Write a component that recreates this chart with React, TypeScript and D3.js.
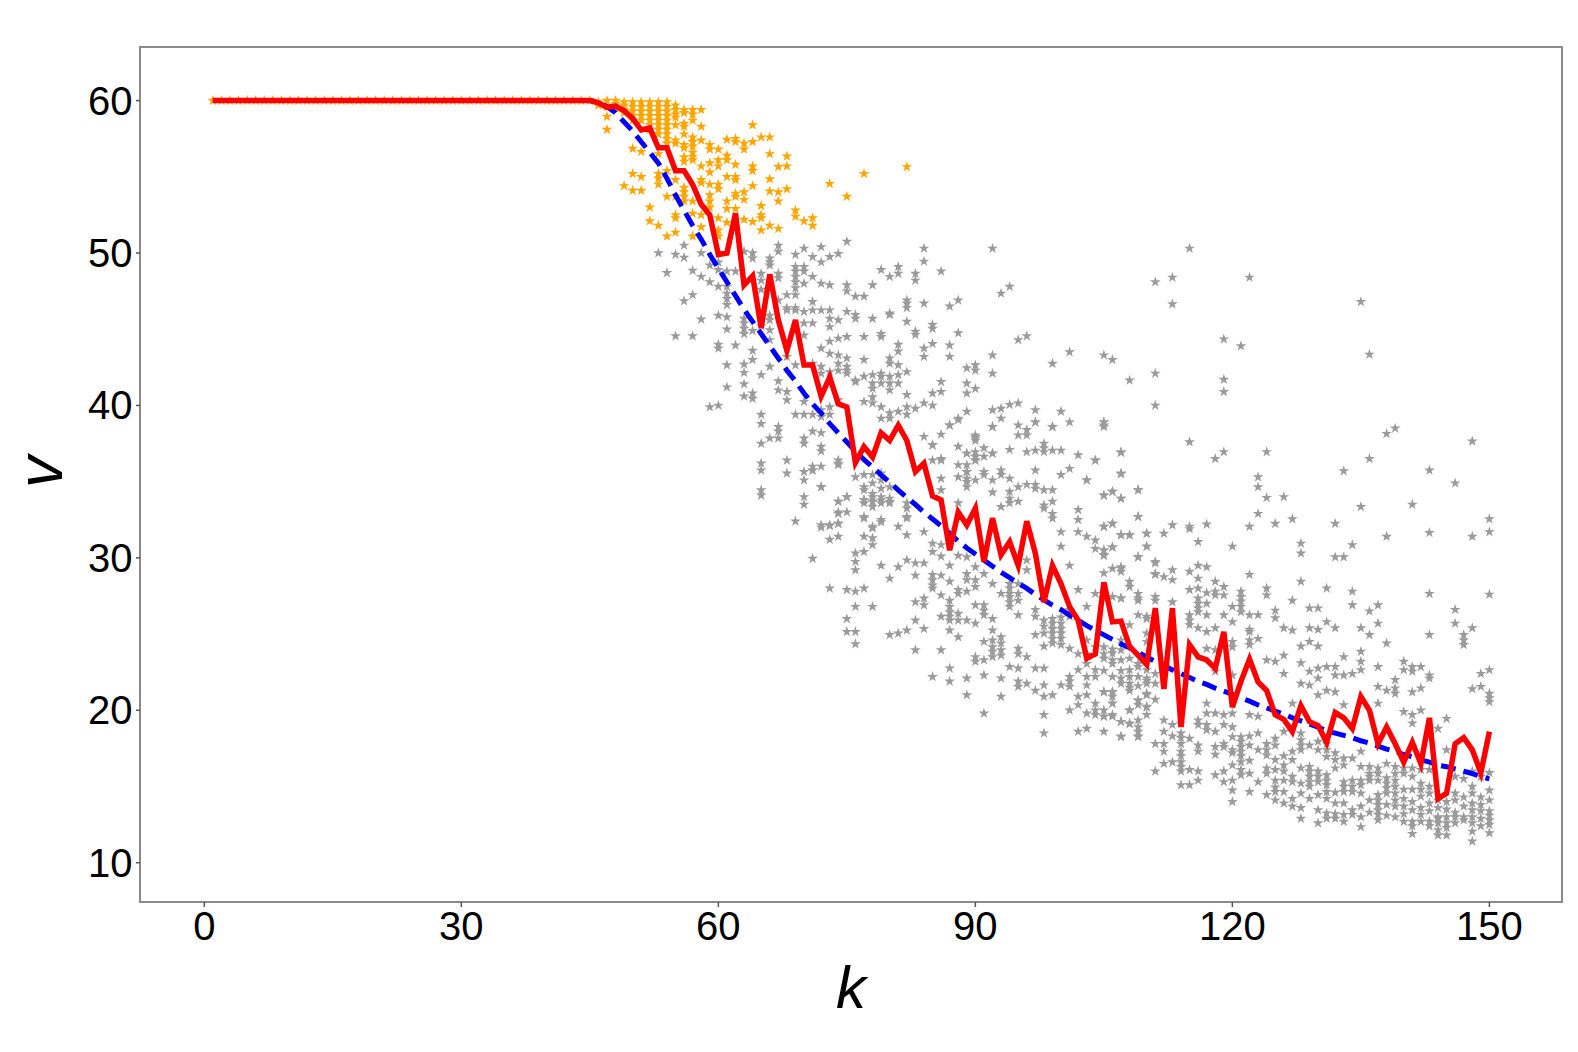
import React from "react";
import * as d3 from "d3";

const W = 1578, H = 1052;
const xTicks = [0, 30, 60, 90, 120, 150];
const yTicks = [10, 20, 30, 40, 50, 60];

const redTail = [59.86,59.56,59.64,59.34,58.83,58.07,58.2,56.9,56.9,55.4,55.4,54.5,53.2,52.5,49.9,50,52.6,47.9,48.5,45.1,48.6,45.6,43.6,45.6,42.65,42.65,40.6,41.85,40.1,39.9,36.25,37.3,36.6,38.2,37.7,38.7,37.7,35.65,36.2,34.05,33.8,30.5,33,32.15,33.25,29.75,32.6,30.2,31.05,29.5,32.4,30.3,27.1,29.5,28.3,26.8,25.9,23.4,23.7,28.4,25.8,25.85,24.2,23.6,23,26.7,21.4,26.7,18.9,24.3,23.5,23.3,22.75,25.15,20.2,21.9,23.35,21.85,21.3,19.7,19.4,18.6,20.3,19.25,19,17.9,19.85,19.5,18.8,20.9,20,17.8,18.9,17.8,16.6,17.9,16.5,19.5,14.2,14.55,17.8,18.2,17.4,15.9,18.6];
const blueTail = [59.9,59.6,59.2,58.6,58,57.3,56.6,55.9,54.9,53.8,52.8,51.8,50.9,49.9,49,48.1,47.2,46.3,45.5,44.7,43.9,43.1,42.3,41.6,40.8,40.1,39.5,38.8,38.2,37.6,37,36.45,35.95,35.45,34.95,34.45,33.95,33.5,33,32.55,32.1,31.6,31.1,30.65,30.25,29.85,29.45,29.05,28.7,28.35,28,27.6,27.25,26.9,26.6,26.25,25.9,25.55,25.25,24.95,24.65,24.35,24.1,23.8,23.5,23.2,22.95,22.65,22.4,22.15,21.9,21.7,21.45,21.25,21.05,20.8,20.6,20.35,20.15,19.95,19.75,19.5,19.3,19.1,18.9,18.65,18.5,18.35,18.2,18,17.85,17.65,17.45,17.3,17.1,16.95,16.75,16.6,16.4,16.3,16.15,16,15.85,15.65,15.5];
const flatK = Array.from({ length: 45 }, (_, i) => i + 1);
const flatV = flatK.map(() => 60);

type Row = [number, number[]];
const orangeRows: Row[] = [
[46,[59.9,59.7]],[47,[60,59.6,58.95,58.1]],[48,[60,59.8,59.5]],[49,[59.9,59.7,59.4,59.2,54.4]],
[50,[59.9,59.6,59.3,59,58.7,56.85,55.2,54.1]],[51,[59.9,59.6,59.3,59,58.7,56.65,55,54.1]],
[52,[59.9,59.6,59.3,59,58.7,58.4,58.1,53,52.1]],[53,[59.9,59.6,59.3,59,58.7,58.4,58.1,57.8,56.5,55.2,54.9,54.5,51.8]],
[54,[59.9,59.6,59.3,59,58.7,58.4,58.1,57.8,57.5,57.2,55.4,53.7,51.1]],[55,[59.7,59.4,59.1,58.9,58.4,57.4,57.2,54.8,53.7,52.5,52.3,51.35]],
[56,[59.4,59.2,58.5,58.3,57.8,57.1,56.9,56.3,56,54.3,54,53.7,53.4]],[57,[59.4,59.1,58.7,57.6,57.3,57,56.6,56.3,56.1,53.4,52.6,51.1]],
[58,[59.4,58.3,57.4,55.7,54.8,54.6,52.5,51.7]],[59,[57.1,56.8,55.9,55.3,54.5,53.8,53.4,53]],
[60,[56.8,56.1,55.7,54.5,54.2,52.3,51.5,51.1]],[61,[57.45,56.4,56.1,55,53.4,52.9,52]],
[62,[57.5,57.3,55.8,55,54.8,53.9,53.7,52.9]],[63,[57.2,56.8,54,53.5,52.2]],[64,[58.4,57.3,55.7,55.4,54.4,52.05]],
[65,[57.6,53.1,52.5,52.3,51.5]],[66,[57.6,56.5,54.85,54.05,51.8]],[67,[55.66,54,53.4,51.6]],[68,[56.35,55.7,54.2]],
[69,[52.8,52.4]],[70,[52.1]],[71,[52.3,51.8]],[73,[54.55]],[75,[53.7]],[77,[55.2]],[82,[55.65]],
];
const grayUpperLeft: Row[] = [
[53,[50]],[54,[48.7]],[55,[49.9,44.55]],[56,[50.5,49.7,46.85]],[57,[48.85,47.25,44.55]],[58,[50,48.45,45.65]],[59,[49.2,48.1,39.9]],
[60,[49.4,48.9,47.8,45.9,44,43.75,40]],[61,[48.8,47.8,47.35,47,46.6,45.8,45,42.65,41.2]],[62,[48.8,43.95]],
[63,[50.1,45.7,45.4,45.05,44.7,42.7,42.15,41.4,40.6]],[64,[50,49.65,44.9,43.6,43,40.8,40.45]],
[65,[48.65,48.2,47.6,45.7,45.2,42,39.4,38.8,37.5,36.2,35.75,34.45,34.1]],[66,[49.65,49.4,49.2,45.9,45.6,44.95,44.3,42.55,37.85]],
[67,[50.5,50.1,48.65,48.35,46.9,41.6,41,38.6,38.3,37.85]],[68,[47.25,46.4,46.25,43.2,40.9,40.35,36.4,35.55]],
[69,[49.9,49.1,48.8,48.45,48.1,47.7,47.25,46.4,46.25,42.65,39.4,32.4]],
[70,[50.3,49.1,48.8,48,46.15,45.4,44.6,40.25,39.4,37.85,37.5,35.65,35.1,34,33.5]],
[71,[49.75,48.45,46.8,46.25,45.4,42.75,39.4,38.3,36,35.75]],[72,[50.4,49.4,48,46.25,43.75,42.55,42.1,39.7,39.25,38.2,37.3,37,36,34.65,32.15]],
[73,[49.75,47.9,46.25,45.7,45.15,44.2,43.4,42.2,39.9,39.4,32.15]],[74,[49.95,45.6,44.4,43.3,42.75,42.3,40.35,36.4,36.1,33.7,32.9,32.25]],
[75,[50.75,47.9,47.5,46.15,44.5,43.1,42.55,42.3,42.1,34,33]],[76,[47.15,45.95,45.7,41.65,41.55,35.3]],
[77,[47.15,44.5,43,41.9,40.25,35.45,34.65,33.8,33.6,32.7]],[78,[47.9,45.7,42,41.45,41.1,40.55,40.15,35.45,34.9,34,33.7,33.35,32.05]],
[79,[48.9,44.7,44.5,42.1,41.9,41.45,39.9,39.15,35.55,35.1,34.55,33.8,33.6,32.35]],[80,[48.45,46.05,45.95,43.1,42.75,41.9,41.45,41,39.5,39.15,34.65,33.7]],
[81,[49.1,48.65,44,43.55,42.65,42,41.45,39.6,38.5]],[82,[46.9,46.7,46.4,45.5,42.2,40.7,39.9,39.4,33.6,32.7]],
[83,[48.65,48.2,44.85,44.65,39.8]],[84,[50.3,49.45,46.7,43.75,43.2,40.15,37.95]],[85,[45.3,45.05,44.05,40.8,40,37.4,36.4]],
[86,[48.8,41.55,40.9,36.4,35.2,34.45]],[87,[46.5,43.95,43.2,38.7]],[88,[46.9,44.75,39.15,39.05]],
[89,[42.45,41.45,40.8,39.6,36.85,36.1,35.65,35.2,34.65]],[90,[42.65,42.3,41.1,38.05,37.85,36.65,36.4]],
[92,[50.3,43.3,42.1,39.7,38.6,36.85]],[93,[47.35,39.15,39.8]],[94,[47.8,40.05]],[95,[44.3,40.15]],[96,[44.55]],
[97,[39.7,38.9]],[99,[42.75,38.6]],[100,[39.6]],[101,[43.5,38.9]],[103,[35.1]],[104,[36.4]],
];
const grayOutliers: Row[] = [
[105,[43.3,38.9,38.6,34.1,32.05,30.5,30.2]],[106,[43,34.35,32.25,30.7]],[107,[36.9,35.5,33.9,31.5]],[108,[41.65,31.5]],
[109,[34.45,32.7,30.05]],[110,[31.6,30.75]],[111,[48.1,42.1,40]],[112,[31.6]],[113,[48.4,46.65,32.15]],[115,[50.3,37.6,32.05,31.9]],
[116,[31.05]],[117,[32.2]],[118,[36.5]],[119,[44.35,41.7,40.9,36.95]],[120,[30.75]],[121,[43.9]],[122,[48.4,32.05]],
[123,[35.3,34.65,32.9]],[124,[36.95,33.95]],[125,[32.25]],[126,[34]],[127,[32.55]],[128,[30.95,30.3]],[132,[32.25,30.05]],
[133,[35.7,30.05]],[134,[30.85]],[135,[46.8,33.35]],[136,[43.35,36.5]],[138,[38.15,31.4]],[139,[38.5]],[141,[33.5]],
[143,[35.75,31.65]],[146,[34.9]],[148,[37.65,31.4]],[150,[32.55,31.7]],
];
const grayMiddle: Row[] = [
[71,[29.95,35.75]],[72,[32,34.65]],[73,[32.1,31.2,28]],[74,[36.2,33.7,33,32.25,31.4]],[75,[34,27.9,26,25.15]],
[76,[30.3,29.75,29.2,27.8,26.8,25.15,24.35]],[77,[34.45,33.8,32.6,31.4,30.4,28]],[78,[34.2,33.7,31.95,31.3,30.85,26.8]],
[79,[34,32.5,29.5]],[80,[33.9,33.6,28.65,24.95]],[81,[32.05,29.4,25.05]],[82,[33.25,32.6,31.5,29.85,25.25]],
[83,[29.65,28.85,27.1,25.9,23.95]],[84,[31.7,29.65,27.35,26.9,25.35]],[85,[37.4,30.95,30.4,28.9,28.55,28.2,28,22.2]],
[86,[38.1,36.5,30.85,30.1,28.85,27.55,26.15,23.95]],[87,[38.7,29.5,28.45,27.2,26.8,26.45,26.15,25.9,25.25,22.75,21.9]],
[88,[37.3,36.1,35.3,33.6,30.15,27.9,27.65,26.35,25.9,24.8]],[89,[36.85,35.65,35,30.05,28.95,28.55,27.8,25.9,22.1,21]],
[90,[37.95,37.7,36.95,36.65,36.4,35.1,29.4,28.55,28.1,26.9,25.7,23.5,23.2]],[91,[37.2,36.65,35.65,35.45,28.95,26.9,26.55,26.25,24.5,23.3,22.3,19.8]],
[92,[38.6,36.85,35.1,34.3,28.3,26,25.25,24.6,24.15,23.85,23.5]],[93,[35.75,35.45,33.35,27.65,24.8,24.4,23.95,23.6,22.1,20.9]],
[94,[37.1,35.2,34.35,33.9,33.6,28.3,28,27.65,27.45,27.1,26.8,22.85]],[95,[38.7,38.05,34.65,33.7,28.3,27.65,27.2,26.25,24.05,23.7,22.75,21.9,21.55]],
[96,[38.4,38.05,36.95,34.8,29.85,29.2,23.5,21.75]],[97,[38.9,37.05,35.75,34.8,34.55,26.6,26.15,24.95,22.75,21.3]],
[98,[37.5,37.2,36.95,34.45,33.45,33.25,25.9,25.5,25.05,22.75,21.65,20.9,19.7,18.5]],[99,[38.6,37.05,34.45,33.7,32.9,32.6,26,25.7,25.35,25.05,24.7,24.4,21]],
[100,[37.05,35.45,31.7,30.75,26.1,25.7,25.35,25.05,24.7,24.3,21.65]],[101,[35.85,29.5,26.6,26.15,24.05,22.2,21.9,21.55,20]],
[102,[36.75,33.15,32.5,31.7,27.9,23.7,22.65,20.9,20.35,18.6]],[103,[35.1,31.4,26.8,23.7,23.05,22.2,21.65,21,19.8,18.8]],
[104,[36.4,31.15,30.6,27.65,24.15,22.65,22.2,20.45,20,19.7]],[105,[38.9,38.7,34.1,32.05,30.5,30.15,24.15,23.7,23.4,21.2,20,19.6]],
[106,[34.35,32.25,30.7,24,23.3,23.05,21.2,20.45,19.6]],[107,[36.95,35.55,33.9,31.5,29.3,27.35,22.1,21.75,19.25,18.25]],
[108,[31.5,28.1,23.4,22.65,22.2,21.75,21.3,20,19.1]],[109,[34.45,32.7,30.05,27.2,23.05,22.2,20.65,18.9,18.25]],
[110,[31.6,30.75,26.15,25.05,21.95,21.1,20.2,19.7]],[111,[29.75,28.95,27.2]],
];
const grayRight: Row[] = [
[105,[29,27.35,21.2,19.6,18.6]],[106,[29.3,27.45,23.75,21.2,20.45,19.7]],[107,[29.4,29.1,27.35,23.95,23.3,19.25,18.3]],[108,[28.45,25.6,20,19.15]],
[109,[27.65,27.35,26.25,22.85,20.65,19.35,18.6,18.3]],[110,[26,23.3,22.65,22.1,21.75,21,20.25]],[111,[29.65,28.9,27.45,21.75,20.7,17.8,16]],
[112,[28.75,19.35,18.6,17.8,17.3,16.5]],[113,[29.2,28.55,27.1,19.05,18.3,16.6]],[114,[19.15,18.5,17.8,17.3,17,16.6,16.3,16,15.1]],
[115,[29.1,27.9,26.25,25.9,25.6,18.15,16.1,15.1]],[116,[29.5,28.65,28,27.35,27,26.7,26.45,25.4,19.35,19.05,17.7,17.3,16,15.4]],
[117,[29.4,27.7,27,26.25,25.15,24.05,20.45,19.8,19.05,18.7]],[118,[28.45,27.8,27.55,25.4,23.95,22.55,19.8,18.6,17.6,17.1,15.75]],
[119,[28.1,27.55,26.25,19.7,19.05,17.8,17.6,16,15.3]],[120,[26.8,25.8,24.5,24.15,22.3,19.8,18.9,18.25,17.4,17.2,16.4,15.4,14.75,14]],
[121,[27.8,27.45,27.15,26.8,26.45,18.25,17.95,17.6,17.3,17,16.6,16.1,15.75]],[122,[28.9,26.25,25.3,25.15,24.6,24.3,19.7,18.3,17.7,16.7,15.85,14.65]],
[123,[26.25,24.7,19.6,18.5,17.4,15.3]],[124,[28,27.55,23.3,17.8,17.4,17.05,16.2,15.85,14.45]],
[125,[26.55,26.05,23.2,18.15,17.7,16.75,16.1,15.4,14.95,14.65,14.1]],[126,[25.4,23.6,22.4,18.6,17,16.4,16,15.4,14.65]],
[127,[27.2,25.25,20.45,17.3,16.75,15.65,15.3,14.2,13.7]],[128,[28.45,24.2,23.1,21.75,18.5,18.05,17.7,17.4,16.2,15.2,14.55,12.9]],
[129,[26.7,25.4,24.5,22.55,21.65,17.7,16.3,16,15.65,15.3,15]],[130,[26.7,25.3,24.2,22.75,22.1,21,17.95,17.4,16,15.65,15.3,14.45,13.45,12.6]],
[131,[28,25.8,22.85,21.3,17.8,17.4,16.95,15.75,15.4,15.1,14.65,14.2,13.25]],[132,[25.4,22.85,22.3,21.2,17.2,16.75,16.2,12.9]],
[133,[23.5,22.3,20.35,16.85,16.4,15.3,15,14.65,13.15,12.7]],[134,[27.8,26.9,22.4,16.85,15.4,15,14.65,13.45,13.15]],
[135,[25.4,23.85,23.2,22.65,17.3,16.3,15.4,15.1,14.55,12.35]],[136,[26.5,24.95,16.3,15.85,15.65,15.4,14.1]],
[137,[26.9,25.7,22.85,21.55,20.45,16.2,15.85,15.4,14.45,14.1,13.8,13.45,13.15,12.8]],[138,[24.4,21.3,16.5,15.55,15.2,14.9,14.55,13.8]],
[139,[22,21.45,21.1,16.3,15.85,15.4,15,14.55,14.1,13.7,13]],[140,[23.2,22.65,19.9,16.2,15.85,14.8,13.7,12.7]],
[141,[22.85,22.55,21.2,19.7,19.15,16.2,15.65,14.8,13.45,12.7,11.9]],[142,[22.85,21.45,20,16.1,15.2,14.8,14.35,13.15]],
[143,[27.65,24.95,22.3,22.1,16.1,15,14.55,13.9,12.7]],[144,[18.8,14.1,13,12.6,12.15,11.8]],[145,[19.45,17.4,13,12.6,11.8]],
[146,[26.6,25.7,15.65,14.55,13,12.6]],[147,[24.95,24.6,24.3,13]],[148,[25.4,21.4,16,15,14.55,13.9,13.45,13,12.6,12.05,11.4]],
[149,[22.4,21.55,15.65,13.8,12.9]],[150,[27.6,22.65,21.1,20.8,20.55,14.75,14.1,13.1,12.5,11.95]],
];
const grayDense: Row[] = [
[98,[24.2]],[103,[24.6]],[105,[22.6]],[106,[22.2,20.9]],[107,[24.6,22.6]],[108,[21.5]],[109,[21.6,20.35]],
[110,[24.5]],[111,[22.4]],[114,[18.2]],
[126,[13.9]],[128,[13.6]],[129,[14.2]],[131,[12.9]],[132,[14.6,13.9,13.2]],[133,[13.9]],[135,[13.7,13]],
[136,[13.3]],[138,[13.1]],[140,[14.2,13.2]],[141,[14,12.4]],[142,[13.6,12.7]],[143,[13.4,12.4]],[144,[13.6,12.9]],
[145,[14,13.5,12.3]],[146,[14.1,13.3]],[147,[15.5,14.3,13.7,12.8]],[149,[14.3,13.4,12.4]],[150,[15.9,13.4,12.8]],
];

const x = d3.scaleLinear().domain([0, 150]).range([204.3, 1489.4]);
const y = d3.scaleLinear().domain([10, 60]).range([862.7, 100.6]);
const star = d3.symbol().type(d3.symbolStar).size(36)() as string;
const line = d3.line<number>().x((_, i) => x(i + 1)).y((v) => y(v));
const FONT = "'Liberation Sans', sans-serif";
const FRAME = { l: 140, r: 1562, t: 47, b: 902 };

const expand = (rows: Row[]) => rows.flatMap(([k, vs]) => vs.map((v) => [k, v] as [number, number]));
const flatStars = flatK.map((k, i) => [k, flatV[i]] as [number, number]);

export default function App() {
  const gray = [...grayUpperLeft, ...grayOutliers, ...grayMiddle, ...grayRight, ...grayDense];
  return (
    <svg width={W} height={H} viewBox={`0 0 ${W} ${H}`} style={{ position: "absolute", left: 0, top: 0, background: "#fff" }}>
      <rect x={FRAME.l} y={FRAME.t} width={FRAME.r - FRAME.l} height={FRAME.b - FRAME.t} fill="#fff" stroke="#8a8a8a" strokeWidth={2} />
      {xTicks.map((t) => (
        <g key={t}>
          <line x1={x(t)} x2={x(t)} y1={FRAME.b} y2={FRAME.b + 5} stroke="#555" strokeWidth={1.5} />
          <text x={x(t)} y={940} textAnchor="middle" fontFamily={FONT} fontSize={40} fill="#000">{t}</text>
        </g>
      ))}
      {yTicks.map((t) => (
        <g key={t}>
          <line x1={FRAME.l - 4} x2={FRAME.l} y1={y(t)} y2={y(t)} stroke="#555" strokeWidth={1.5} />
          <text x={132.5} y={y(t) + 14} textAnchor="end" fontFamily={FONT} fontSize={40} fill="#000">{t}</text>
        </g>
      ))}
      {expand(gray).map(([k, v], i) => (
        <path key={"g" + i} d={star} transform={`translate(${x(k)},${y(v)})`} fill="#9b9b9b" />
      ))}
      {[...flatStars, ...expand(orangeRows)].map(([k, v], i) => (
        <path key={"o" + i} d={star} transform={`translate(${x(k)},${y(v)})`} fill="#FFA500" />
      ))}
      <path d={line([...flatV, ...blueTail]) as string} fill="none" stroke="#0000FF" strokeWidth={5} strokeDasharray="15 8" />
      <path d={line([...flatV, ...redTail]) as string} fill="none" stroke="#FF0000" strokeWidth={5.5} strokeLinejoin="miter" />
      <text x={851} y={1008} textAnchor="middle" fontFamily={FONT} fontStyle="italic" fontSize={60} fill="#000">k</text>
      <text transform="translate(62,472) rotate(-90)" textAnchor="middle" fontFamily={FONT} fontStyle="italic" fontSize={64} fill="#000">v</text>
    </svg>
  );
}
